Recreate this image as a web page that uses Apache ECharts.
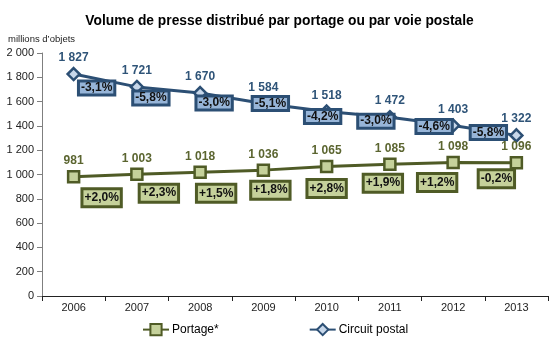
<!DOCTYPE html>
<html>
<head>
<meta charset="utf-8">
<script src="https://cdn.jsdelivr.net/npm/echarts@6/dist/echarts.min.js"></script>
<style>
  html, body { margin: 0; padding: 0; background: #ffffff; }
  #chart { width: 559px; height: 339px; }
</style>
</head>
<body>
<div id="chart"></div>
<script>
// Years on the horizontal axis
const years = ['2006', '2007', '2008', '2009', '2010', '2011', '2012', '2013'];

// Volumes in millions of items
const portage = [981, 1003, 1018, 1036, 1065, 1085, 1098, 1096];
const circuitPostal = [1827, 1721, 1670, 1584, 1518, 1472, 1403, 1322];

// Year-on-year change, as printed in the boxes
const portageChange = ['+2,0%', '+2,3%', '+1,5%', '+1,8%', '+2,8%', '+1,9%', '+1,2%', '-0,2%'];
const postalChange = ['-3,1%', '-5,8%', '-3,0%', '-5,1%', '-4,2%', '-3,0%', '-4,6%', '-5,8%'];

// Pixel offsets of the change boxes relative to their point
const portageBoxOffset = [[28, 21], [22, 19], [16, 21], [7, 20], [0, 22], [-7, 19], [-16, 20], [-20, 16]];
const postalBoxOffset = [[23, 14], [14, 11], [14, 10], [7, 0], [-4, 5], [-14, 4], [-19, 1], [-28, -3]];

const FONT = 'Arial, "Liberation Sans", sans-serif';
const GREEN = '#4F5B26', GREEN_FILL = '#C5D19B', GREEN_TEXT = '#5B6530';
const BLUE = '#2C4F74', BLUE_FILL = '#97B5D8', BLUE_TEXT = '#2F5478';

const fmt = v => String(v).replace(/\B(?=(\d{3})+(?!\d))/g, ' ');

function boxSeries(values, labels, offsets, fill, border, padV) {
  return {
    type: 'scatter',
    name: '',
    silent: true,
    symbolSize: 0,
    z: 5,
    itemStyle: { opacity: 1 },
    data: values.map((v, i) => ({
      value: v,
      label: { formatter: labels[i], offset: offsets[i] }
    })),
    label: {
      show: true,
      position: 'inside',
      fontFamily: FONT,
      fontSize: 12,
      fontWeight: 'bold',
      color: '#111111',
      opacity: 1,
      lineHeight: padV ? 13 : 11,
      backgroundColor: fill,
      borderColor: border,
      borderWidth: 3,
      padding: [padV, 1, padV, 1]
    }
  };
}

const chart = echarts.init(document.getElementById('chart'), null, { renderer: 'canvas' });

chart.setOption({
  animation: false,
  backgroundColor: '#ffffff',
  title: {
    text: 'Volume de presse distribué par portage ou par voie postale',
    left: 'center',
    top: 9,
    textStyle: { fontFamily: FONT, fontSize: 13.8, fontWeight: 'bold', color: '#000000' }
  },
  graphic: [{
    type: 'text',
    left: 8,
    top: 34,
    style: { text: 'millions d’objets', fontFamily: FONT, fontSize: 9.5, fill: '#222222' }
  }],
  legend: {
    data: ['Portage*', 'Circuit postal'],
    left: 137,
    top: 318,
    itemGap: 90,
    itemWidth: 26,
    itemHeight: 14,
    textStyle: { fontFamily: FONT, fontSize: 12, color: '#000000', padding: [0, 0, 0, -2] }
  },
  grid: { left: 42, right: 11, top: 53, bottom: 43, containLabel: false },
  xAxis: {
    type: 'category',
    data: years,
    boundaryGap: true,
    axisLine: { lineStyle: { color: '#222222', width: 1 } },
    axisTick: { show: true, interval: 0, length: 5, lineStyle: { color: '#222222' } },
    axisLabel: { fontFamily: FONT, fontSize: 11, color: '#222222', margin: 6 }
  },
  yAxis: {
    type: 'value',
    min: 0,
    max: 2000,
    interval: 200,
    axisLine: { show: true, lineStyle: { color: '#7f7f7f' } },
    axisTick: { show: true, length: 5, lineStyle: { color: '#7f7f7f' } },
    splitLine: { show: false },
    axisLabel: { fontFamily: FONT, fontSize: 11, color: '#222222', margin: 8, formatter: fmt }
  },
  series: [
    {
      name: 'Portage*',
      type: 'line',
      data: portage,
      symbol: 'rect',
      symbolSize: 11,
      lineStyle: { color: GREEN, width: 3 },
      itemStyle: { color: GREEN_FILL, borderColor: GREEN, borderWidth: 2.5 },
      label: {
        show: true, position: 'top', distance: 3,
        fontFamily: FONT, fontSize: 12, fontWeight: 'bold', color: GREEN_TEXT,
        formatter: p => fmt(p.value)
      },
      z: 3
    },
    {
      name: 'Circuit postal',
      type: 'line',
      data: circuitPostal,
      symbol: 'diamond',
      symbolSize: 12,
      lineStyle: { color: BLUE, width: 3 },
      itemStyle: { color: '#C7D7EA', borderColor: BLUE, borderWidth: 2.5 },
      label: {
        show: true, position: 'top', distance: 3,
        fontFamily: FONT, fontSize: 12, fontWeight: 'bold', color: BLUE_TEXT,
        formatter: p => fmt(p.value)
      },
      z: 3
    },
    boxSeries(portage, portageChange, portageBoxOffset, GREEN_FILL, GREEN, 1),
    boxSeries(circuitPostal, postalChange, postalBoxOffset, BLUE_FILL, BLUE, 0)
  ]
});
</script>
</body>
</html>
